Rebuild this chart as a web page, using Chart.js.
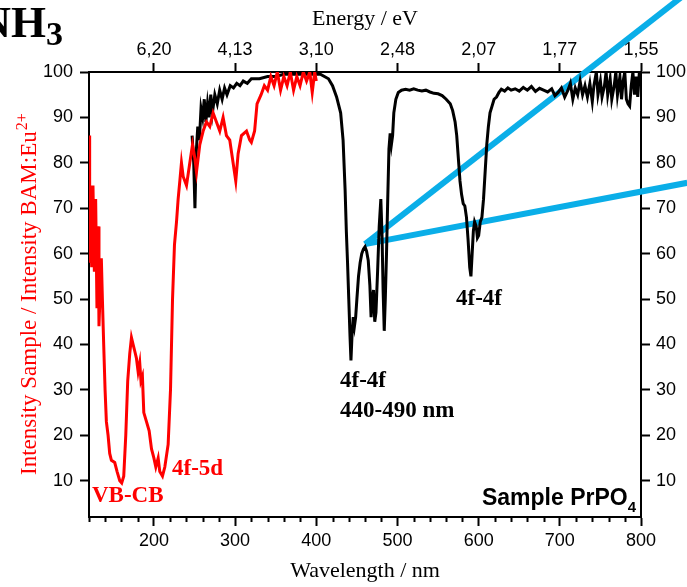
<!DOCTYPE html>
<html>
<head>
<meta charset="utf-8">
<script src="https://cdn.jsdelivr.net/npm/chart.js@4/dist/chart.umd.min.js"></script>
<style>
html,body{margin:0;padding:0;background:#fff;}
#wrap{width:687px;height:587px;position:relative;}
</style>
</head>
<body>
<div id="wrap"><canvas id="c" width="687" height="587"></canvas></div>
<script>
// ---- data ----
const wavelengthTicks = [200, 300, 400, 500, 600, 700, 800];
const energyTickLabels = ['6,20', '4,13', '3,10', '2,48', '2,07', '1,77', '1,55'];
const intensityTicks = [10, 20, 30, 40, 50, 60, 70, 80, 90, 100];

const redWavelength = [120,120.8,121.6,123.3,124.9,126.6,128.2,129.8,131.1,132.3,134,135.2,136.5,138.1,139.8,141.4,143.5,145.5,147.6,151.7,154.6,157.9,160.3,162.8,165.3,167.7,170.2,172.3,174.3,176.4,178.4,180.5,182.5,184,185.8,187.5,190.8,194.1,197,199.9,202.3,205.2,207.2,210.5,213.4,217.5,220.4,222.9,225.3,227.8,229.8,231.9,233.9,236,240.1,244.2,247.5,250.4,252.4,256.5,260.6,264.7,268.8,272.9,277,281.1,285.2,289.3,293.4,297.5,300.8,303.7,307.8,314,318,320,324,327,332,336,340,344,348,352,356,360,364,368,372,376,380,384,388,392,395,398,400];
const redIntensity = [86,58,75,57,75,56,72,48,66,44,53,59,50,40,30,23,20,16,14.5,14,12,10,9.5,11,20,32,38,41.5,40,38.5,37,34,36,32,33,25,23,21,17,15,13,15,12,11,13,18,30,50,62,67,72,76,80,77,75,80,84,81,78,84,87,89,88,91,89,87,90,86,85,80,76,82,86,87,85,84.5,87,93,95,97,96,99,97,100,96,99,97,100,96,99,97,100,98,100,95.5,100,98];

const blackWavelength = [247,249,250.5,252,254,256,258,260,262,264,266,268,270,272,275,278,281,284,287,290,294,298,302,306,310,315,320,330,340,350,360,370,380,390,400,405,410,415,420,425,430,433,435.5,437,438.5,440,441.5,442.7,444,445.5,447,448.5,450,452,454,456,458,460,462,464,466,467.5,469,470.5,472,473.5,475.5,477.5,479.5,481,482.3,483.7,485,486.5,488,489.5,491,492.5,494,495.5,498,501,505,510,515,520,525,530,535,540,545,550,555,560,565,568,571,573,575,577,579,581,583,585,587,589,590.5,592,593.5,595,597,598.5,600,602,604,606,608,610,612,614,616.5,619,622,625,628,632,636,640,645,650,655,660,665,670,675,680,685,690,694,698,702,706,710,713,716,719,722,725,728,731,734,737,740,742,745,747,750,752,755,757,759,762,764,767,769,771,774,776,778,780,782,784,786,788,790,792,794,796,798,800];
const blackIntensity = [86,80,70,82,88,85,92,90,94,89,93,90,95,91,95,93,96,94,96.5,95,97,96.5,97.5,97,98,97.5,98.5,98.5,99,99,99.5,99.5,99.5,99.5,99.5,99.5,99,98.5,97,94.5,91,85,74,65,58,50,42,36.5,42,46,44,46,50,55,58,60,61,61.5,60.5,58.5,53,46,50,52,45,47,56,66,72,64,52,43,50,60,72,83,86.5,84,86,91,94,95.5,96,96.2,96,96.3,96,95.8,96,95.6,95.3,95.2,94.8,94,93,91.5,89,86,81,76,73,71,70.5,68,63,57,55,60,65,67,66,63.5,64,67,68,72,78,84,88,91,92.5,94,94.5,95.5,96.2,95.8,96.5,96,96.3,95.8,96.6,96,96.8,95.7,96.4,96,95.6,96.3,94.8,95.5,96.5,94.5,96,97.5,94,96.5,95,98,95,97,94.5,97.5,93.5,97,100,95,98,94.5,97,100,95,98.5,94,97,100,95,99,94,98,100,94,93,92.5,97,100,95,99,94.5,100,97];

// pointer lines (wavelength / intensity units)
const pointer1Wavelength = [460, 857];
const pointer1Intensity = [62.1, 117.5];
const pointer2Wavelength = [460, 857];
const pointer2Intensity = [62.1, 75.6];

const toXY = (xs, ys) => xs.map((x, i) => ({x, y: ys[i]}));

const annotations = {
  id: 'annotations',
  afterDraw(chart) {
    const ctx = chart.ctx;
    ctx.save();
    // NH3 fragment
    ctx.fillStyle = '#000';
    ctx.font = 'bold 45px "Liberation Serif"';
    ctx.textAlign = 'right';
    ctx.textBaseline = 'alphabetic';
    ctx.fillText('NH', 46, 37);
    ctx.textAlign = 'left';
    ctx.font = 'bold 34px "Liberation Serif"';
    ctx.fillText('3', 46, 45);

    // left axis title (red, rotated)
    ctx.save();
    ctx.translate(36, 475);
    ctx.rotate(-Math.PI / 2);
    ctx.fillStyle = '#ff0000';
    ctx.font = '23px "Liberation Serif"';
    ctx.textAlign = 'left';
    const mainT = 'Intensity Sample / Intensity BAM:Eu';
    ctx.fillText(mainT, 0, 0);
    const w = ctx.measureText(mainT).width;
    ctx.font = '16px "Liberation Serif"';
    ctx.fillText('2+', w + 1, -9);
    ctx.restore();

    // annotations
    ctx.textAlign = 'left';
    ctx.fillStyle = '#ff0000';
    ctx.font = 'bold 23px "Liberation Serif"';
    ctx.fillText('VB-CB', 92, 502);
    ctx.fillText('4f-5d', 172, 475);
    ctx.fillStyle = '#000';
    ctx.fillText('4f-4f', 340, 387);
    ctx.fillText('440-490 nm', 340, 417);
    ctx.fillText('4f-4f', 456, 305);

    ctx.font = 'bold 23px "Liberation Sans"';
    const s = 'Sample PrPO';
    const sw = ctx.measureText(s).width;
    ctx.font = 'bold 15px "Liberation Sans"';
    const sub = ctx.measureText('4').width;
    const x0 = 636 - sw - sub;
    ctx.font = 'bold 23px "Liberation Sans"';
    ctx.fillText(s, x0, 505);
    ctx.font = 'bold 15px "Liberation Sans"';
    ctx.fillText('4', x0 + sw, 512);

    // minor ticks on the wavelength axis
    const xs = chart.scales.x;
    ctx.strokeStyle = '#000';
    ctx.lineWidth = 2;
    for (let v = 120; v <= 800; v += 20) {
      if (v % 100 === 0) continue;
      const px = Math.round(xs.getPixelForValue(v)) + 0.5;
      ctx.beginPath();
      ctx.moveTo(px, xs.top);
      ctx.lineTo(px, xs.top + 5);
      ctx.stroke();
    }
    ctx.restore();
  }
};

const tickFont = {family: 'Liberation Sans', size: 18};
const axisBorder = {color: '#000', width: 2};

new Chart(document.getElementById('c'), {
  type: 'line',
  data: {
    datasets: [
      {data: toXY(redWavelength, redIntensity), borderColor: '#ff0000', borderWidth: 3, pointRadius: 0, tension: 0, xAxisID: 'x', yAxisID: 'y'},
      {data: toXY(blackWavelength, blackIntensity), borderColor: '#000000', borderWidth: 3, pointRadius: 0, tension: 0, xAxisID: 'x', yAxisID: 'y'},
      {data: toXY(pointer1Wavelength, pointer1Intensity), borderColor: '#0aaee8', borderWidth: 6, pointRadius: 0, clip: false, xAxisID: 'x', yAxisID: 'y'},
      {data: toXY(pointer2Wavelength, pointer2Intensity), borderColor: '#0aaee8', borderWidth: 6, pointRadius: 0, clip: false, xAxisID: 'x', yAxisID: 'y'}
    ]
  },
  options: {
    responsive: false,
    animation: false,
    devicePixelRatio: 1,
    layout: {padding: 0},
    plugins: {legend: {display: false}, tooltip: {enabled: false}},
    scales: {
      x: {
        type: 'linear', position: 'bottom', min: 120, max: 800,
        afterBuildTicks: s => { s.ticks = wavelengthTicks.map(v => ({value: v})); },
        afterFit: s => { s.height = 70; },
        grid: {drawOnChartArea: false, tickLength: 9, tickWidth: 2, tickColor: '#000'},
        border: axisBorder,
        ticks: {color: '#000', font: tickFont, padding: 4, maxRotation: 0, autoSkip: false},
        title: {display: true, text: 'Wavelength / nm', color: '#000', font: {family: 'Liberation Serif', size: 22}, padding: {top: 0, bottom: 3}}
      },
      x2: {
        type: 'linear', position: 'top', min: 120, max: 800,
        afterBuildTicks: s => { s.ticks = wavelengthTicks.map(v => ({value: v})); },
        afterFit: s => { s.height = 72; },
        grid: {drawOnChartArea: false, tickLength: 9, tickWidth: 2, tickColor: '#000'},
        border: axisBorder,
        ticks: {color: '#000', font: tickFont, padding: 2, maxRotation: 0, autoSkip: false,
          callback: (v) => energyTickLabels[wavelengthTicks.indexOf(v)] ?? ''},
        title: {display: true, text: 'Energy / eV', color: '#000', font: {family: 'Liberation Serif', size: 22}, padding: {top: 6, bottom: 0}}
      },
      y: {
        type: 'linear', position: 'left', min: 2, max: 100,
        afterBuildTicks: s => { s.ticks = intensityTicks.map(v => ({value: v})); },
        afterFit: s => { s.width = 89; },
        grid: {drawOnChartArea: false, tickLength: 9, tickWidth: 2, tickColor: '#000'},
        border: axisBorder,
        ticks: {color: '#000', font: tickFont, padding: 7}
      },
      y1: {
        type: 'linear', position: 'right', min: 2, max: 100,
        afterBuildTicks: s => { s.ticks = intensityTicks.map(v => ({value: v})); },
        afterFit: s => { s.width = 46; },
        grid: {drawOnChartArea: false, tickLength: 9, tickWidth: 2, tickColor: '#000'},
        border: axisBorder,
        ticks: {color: '#000', font: tickFont, padding: 6}
      }
    }
  },
  plugins: [annotations]
});
</script>
</body>
</html>
